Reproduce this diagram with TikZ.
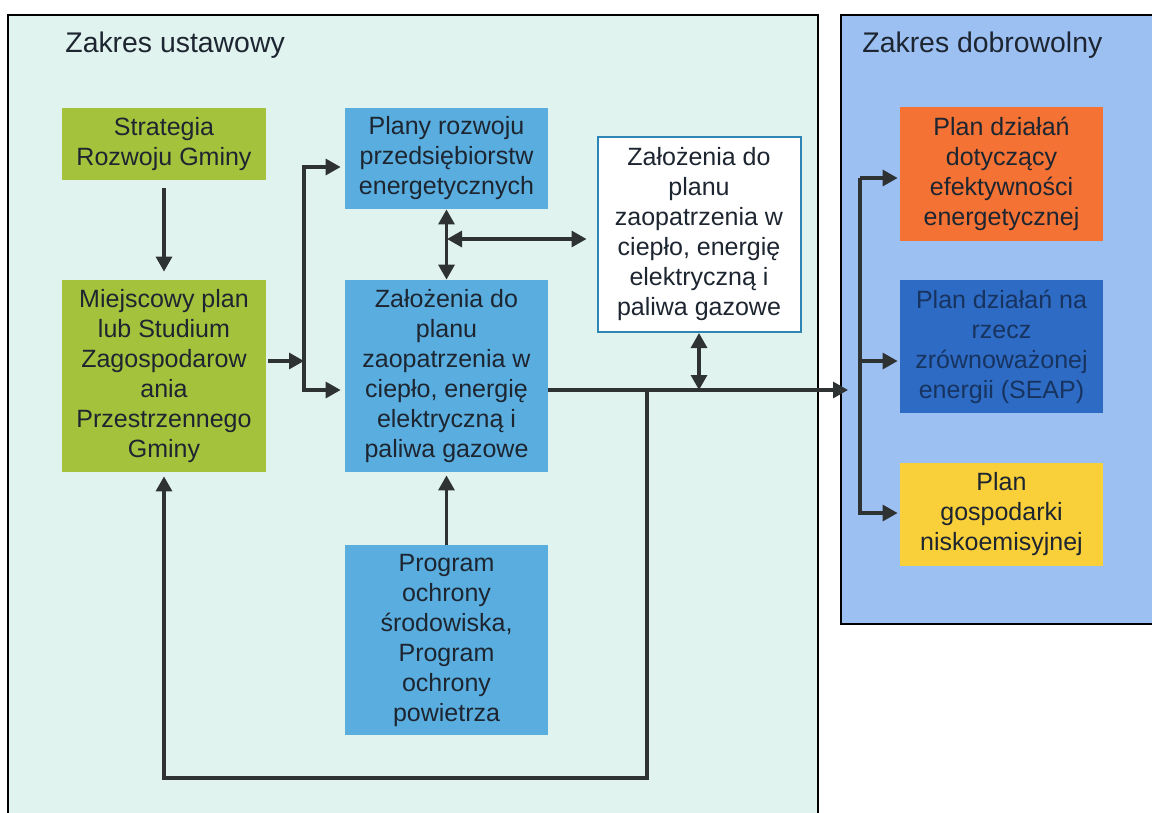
\documentclass[tikz,border=0pt]{standalone}
\usepackage{fontspec}
\setmainfont{Liberation Sans}
\usetikzlibrary{arrows.meta}

\definecolor{mint}{HTML}{E0F3EF}
\definecolor{sky}{HTML}{9DC0F3}
\definecolor{lime}{HTML}{A4C23C}
\definecolor{cyanbox}{HTML}{5AAEDF}
\definecolor{orangebox}{HTML}{F37234}
\definecolor{navybox}{HTML}{2E6BC4}
\definecolor{navyink}{HTML}{17335F}
\definecolor{yellowbox}{HTML}{F9CF3A}
\definecolor{wire}{HTML}{2E3233}
\definecolor{ink}{HTML}{1D2530}
\definecolor{rim}{HTML}{2F86B5}

\begin{document}
\begin{tikzpicture}[x=0.5bp, y=-0.5bp,
  box/.style={inner sep=0pt, align=center, text=ink, minimum width=101.5bp,
    font=\fontsize{12.5bp}{15bp}\selectfont},
  link/.style={draw=wire, line width=1.6bp, -{Triangle[length=7.5bp,width=8bp]}},
  both/.style={link, {Triangle[length=7.5bp,width=8bp]}-{Triangle[length=7.5bp,width=8bp]}},
  title/.style={anchor=base west, inner sep=0pt, text=ink,
    font=\fontsize{14.2bp}{17bp}\selectfont}]
\useasboundingbox (0,0) rectangle (1152,812);
\fill[white] (0,0) rectangle (1152,812);
\draw[fill=mint, line width=1bp] (8,15) rectangle (818,840);
\draw[fill=sky, line width=1bp] (841,15) rectangle (1170,624);
\node[title] (t1) at (65,52) {Zakres ustawowy};
\node[title] (t2) at (862,52) {Zakres dobrowolny};

\node[box, fill=lime, minimum height=36bp] (strat) at (164,144) {Strategia\\Rozwoju Gminy};
\node[box, fill=lime, minimum height=96bp] (miejsc) at (164,376)
  {Miejscowy plan\\lub Studium\\Zagospodarow\\ania\\Przestrzennego\\Gminy};
\node[box, fill=cyanbox, minimum height=50.5bp] (plany) at (446.5,158.5)
  {Plany rozwoju\\przedsiębiorstw\\energetycznych};
\node[box, fill=cyanbox, minimum height=96bp] (zal) at (446.5,376)
  {Założenia do\\planu\\zaopatrzenia w\\ciepło, energię\\elektryczną i\\paliwa gazowe};
\node[box, fill=cyanbox, minimum height=95bp] (prog) at (446.5,640)
  {Program\\ochrony\\środowiska,\\Program\\ochrony\\powietrza};
\node[box, fill=white, draw=rim, line width=1bp, minimum height=97.5bp] (zalw) at (699,234.5)
  {Założenia do\\planu\\zaopatrzenia w\\ciepło, energię\\elektryczną i\\paliwa gazowe};
\node[box, fill=orangebox, minimum height=67bp] (orange) at (1001.5,174)
  {Plan działań\\dotyczący\\efektywności\\energetycznej};
\node[box, fill=navybox, text=navyink, minimum height=66.5bp] (navy) at (1001.5,346.5)
  {Plan działań na\\rzecz\\zrównoważonej\\energii (SEAP)};
\node[box, fill=yellowbox, minimum height=51.5bp] (yellow) at (1001.5,514.5)
  {Plan\\gospodarki\\niskoemisyjnej};

\coordinate (split) at (304,361);
\coordinate (upper) at (304,167);
\coordinate (lower) at (304,390);
\coordinate (mid) at (447,239);
\coordinate (tap) at (647,390);
\coordinate (back) at (647,778);
\coordinate (entry) at (848,390);
\coordinate (top) at (860,178);
\coordinate (fork) at (860,361);
\coordinate (bot) at (860,513);

\draw[link, shorten <=4bp, shorten >=4bp] (strat.south) -- (strat.south |- miejsc.north);
\draw[link, shorten <=1bp] (miejsc.east |- split) -- (split);
\draw[link, shorten >=2bp] (split) |- (plany.west |- upper);
\draw[link, shorten >=2bp] (split) |- (zal.west |- lower);
\draw[both] (plany) -- (zal);
\draw[both, shorten >=5bp] (mid) -- (mid -| zalw.west);
\draw[both] (zalw.south) -- (zalw.south |- lower);
\draw[link] (zal.east |- lower) -- (entry);
\draw[link, shorten >=2bp] (tap) -- (back) -| (miejsc.south);
\draw[link, shorten >=1.5bp] (prog.north) -- (zal.south);
\draw[link, shorten >=1bp] (top) -- (orange.west |- top);
\draw[link, shorten >=1bp] (fork) -- (navy.west |- fork);
\draw[link, shorten >=1bp] (top) -- (bot) -- (yellow.west |- bot);
\end{tikzpicture}
\end{document}
